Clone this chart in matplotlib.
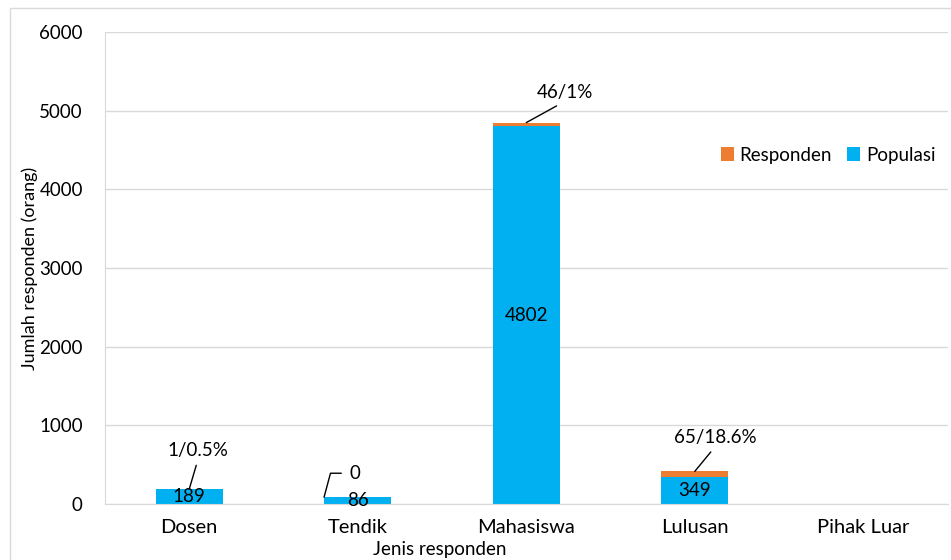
import matplotlib.pyplot as plt
from matplotlib.patches import Rectangle

# data
categories = ["Dosen", "Tendik", "Mahasiswa", "Lulusan", "Pihak Luar"]
populasi = [189, 86, 4802, 349, 0]
responden = [1, 0, 46, 65, 0]
top_labels = ["1/0.5%", "0", "46/1%", "65/18.6%", ""]
yticks = [0, 1000, 2000, 3000, 4000, 5000, 6000]

blue = "#00B0F0"
orange = "#ED7D31"
grid = "#D9D9D9"

plt.rcParams["font.family"] = ["Lato", "DejaVu Sans"]

fig = plt.figure(figsize=(9.51, 5.6), dpi=100)
ax = fig.add_axes([105 / 951, 56 / 560, 842.5 / 951, 472 / 560])

# outer chart border (runs off the right and bottom of the image)
fig.patches.append(Rectangle((10 / 951, -0.2), 1.2, 1.2 - 8 / 560,
                             transform=fig.transFigure, fill=False,
                             edgecolor=grid, lw=1))

x = list(range(len(categories)))
b1 = ax.bar(x, populasi, width=0.4, color=blue, label="Populasi", zorder=2)
b2 = ax.bar(x, responden, width=0.4, bottom=populasi, color=orange,
            label="Responden", zorder=2)

labels_in = [str(v) if v else "" for v in populasi]
ax.bar_label(b1, labels=labels_in, label_type="center", fontsize=13.5, zorder=3)

# callout labels with leader lines (offsets in pixels)
offsets = [(9, 39), (-3, 24), (39, 30), (21, 34), (0, 0)]
for i, lab in enumerate(top_labels):
    if not lab:
        continue
    top = populasi[i] + responden[i]
    if lab == "0":
        ax.annotate(lab, xy=(i - 0.2, top), xytext=(31, 24),
                    textcoords="offset pixels", ha="center", va="center",
                    fontsize=13.5,
                    arrowprops=dict(arrowstyle="-", color="black", lw=1,
                                    relpos=(0, 0.5), shrinkA=4, shrinkB=0,
                                    connectionstyle="angle,angleA=180,angleB=75,rad=0"))
    else:
        dx, dy = offsets[i]
        ax.annotate(lab, xy=(i, top), xytext=(dx, dy),
                    textcoords="offset pixels", ha="center", va="center",
                    fontsize=13.5,
                    arrowprops=dict(arrowstyle="-", color="black", lw=1,
                                    relpos=(0.5, 0), shrinkA=3, shrinkB=0))

ax.set_xlim(-0.5, 4.5)
ax.set_ylim(0, 6000)
ax.set_yticks(yticks)
ax.set_xticks(x)
ax.set_xticklabels(categories)
ax.tick_params(axis="both", length=0, labelsize=13.5, colors="black")
ax.tick_params(axis="x", labelsize=14.5, pad=11)
ax.tick_params(axis="y", pad=16)
ax.yaxis.grid(True, color=grid, lw=1, zorder=0)
ax.set_axisbelow(True)
for s in ["top", "right"]:
    ax.spines[s].set_visible(False)
for s in ["left", "bottom"]:
    ax.spines[s].set_color(grid)

ax.set_ylabel("Jumlah responden (orang)", fontsize=13, labelpad=1)
fig.text(440 / 951, 1 - 549 / 560, "Jenis responden", ha="center",
         va="center", fontsize=13.5)

ax.legend(handles=[b2, b1], loc="center", bbox_to_anchor=(828 / 951, 1 - 155 / 560),
          bbox_transform=fig.transFigure, ncol=2, frameon=False, fontsize=13.5,
          handlelength=0.7, handleheight=0.7, handletextpad=0.3, columnspacing=0.8)

fig.savefig("out.png", dpi=100)
